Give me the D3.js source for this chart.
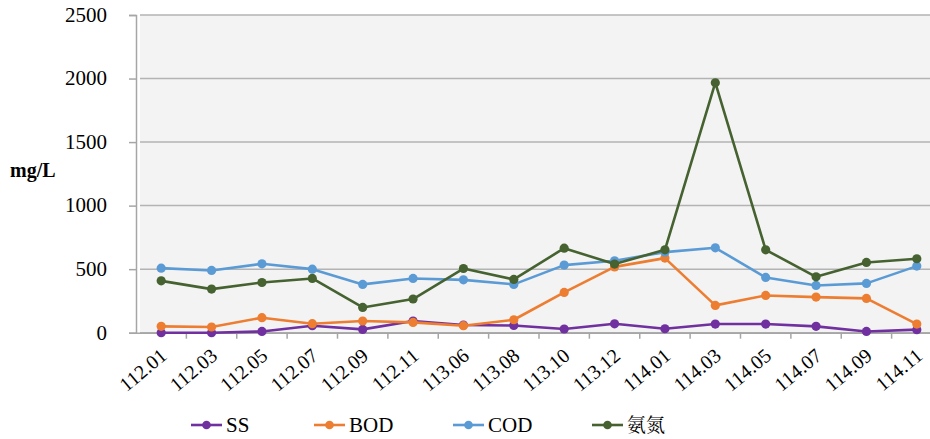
<!DOCTYPE html>
<html><head><meta charset="utf-8">
<script src="https://cdn.jsdelivr.net/npm/d3@7"></script>
</head><body style="margin:0">
<svg id="c" width="930" height="439"></svg>
<script>
const categories = ["112.01","112.03","112.05","112.07","112.09","112.11","113.06","113.08","113.10","113.12","114.01","114.03","114.05","114.07","114.09","114.11"];
const ssValues  = [0, 0, 10, 55, 26, 92, 60, 57, 29, 70, 31, 68, 68, 50, 10, 24];
const bodValues = [50, 45, 118, 71, 92, 81, 55, 102, 317, 518, 587, 215, 293, 280, 270, 68];
const codValues = [508, 490, 542, 500, 380, 427, 416, 380, 532, 566, 634, 668, 435, 372, 388, 524];
const nh3Values = [408, 343, 395, 427, 199, 265, 505, 419, 665, 540, 652, 1967, 652, 440, 553, 582];
const seriesNames = ["SS","BOD","COD","氨氮"];
const yTicks = [0, 500, 1000, 1500, 2000, 2500];

const series = [
  {name: seriesNames[0], values: ssValues,  color: "#7030a0"},
  {name: seriesNames[1], values: bodValues, color: "#ed7d31"},
  {name: seriesNames[2], values: codValues, color: "#5b9bd5"},
  {name: seriesNames[3], values: nh3Values, color: "#456230"}
];

const SERIF = '"Times New Roman"';
const CJK = '"Noto Serif CJK TC"';
const svg = d3.select("#c");
const L = 136, R = 942, T = 15, B = 332.7;
const x = d3.scaleBand().domain(categories).range([L, R]);
const y = d3.scaleLinear().domain([0, 2500]).range([B, T]);

// plot background
svg.append("rect").attr("x", 140).attr("y", T).attr("width", 930 - 140).attr("height", B - T).attr("fill", "#f3f3f3");

// gridlines
svg.append("g").selectAll("line").data(yTicks).join("line")
  .attr("x1", 140).attr("x2", 930)
  .attr("y1", d => y(d)).attr("y2", d => y(d))
  .attr("stroke", "#b3b3b3").attr("stroke-width", 1.5);

// y axis
const yAxis = svg.append("g").attr("transform", `translate(${L},0)`)
  .call(d3.axisLeft(y).tickValues(yTicks).tickSize(7).tickPadding(22).tickFormat(d3.format("d")));
yAxis.attr("font-family", SERIF).attr("font-size", 21);
yAxis.select(".domain").attr("stroke", "#a6a6a6").attr("stroke-width", 1.5);
yAxis.selectAll(".tick line").attr("stroke", "#a6a6a6").attr("stroke-width", 1.5);
yAxis.selectAll("text").attr("font-family", SERIF).attr("font-size", 21).attr("fill", "#000").attr("dy", "0.3em");

// x axis
const xAxis = svg.append("g").attr("transform", `translate(0,${B})`)
  .call(d3.axisBottom(x).tickSize(0).tickFormat(d => d));
xAxis.attr("font-family", SERIF).attr("font-size", 20);
xAxis.select(".domain").attr("stroke", "#a6a6a6").attr("stroke-width", 1.5);
xAxis.selectAll(".tick text")
  .attr("font-family", SERIF).attr("font-size", 20).attr("fill", "#000")
  .attr("text-anchor", "end").attr("dy", 0).attr("y", 0)
  .attr("transform", "translate(7,25) rotate(-40)");
// band boundary ticks
svg.append("g").selectAll("line").data(categories.slice(1)).join("line")
  .attr("x1", d => x(d)).attr("x2", d => x(d))
  .attr("y1", B).attr("y2", B + 6)
  .attr("stroke", "#a6a6a6").attr("stroke-width", 1.5);

// y label
svg.append("text").attr("x", 10).attr("y", 177).text("mg/L")
  .attr("font-family", SERIF).attr("font-weight", "bold").attr("font-size", 20);

// lines + markers
const cx = d => x(d) + x.bandwidth() / 2;
const line = d3.line().x((v, i) => cx(categories[i])).y(v => y(v));
const g = svg.append("g");
series.forEach(s => {
  g.append("path").attr("d", line(s.values)).attr("fill", "none")
    .attr("stroke", s.color).attr("stroke-width", 2.6).attr("stroke-linejoin", "round");
  g.selectAll(null).data(s.values).join("circle")
    .attr("cx", (v, i) => cx(categories[i])).attr("cy", v => y(v))
    .attr("r", 4.6).attr("fill", s.color);
});

// legend
const legendX = [191, 314, 453, 592];
const lg = svg.append("g");
series.forEach((s, i) => {
  const lx = legendX[i], ly = 425;
  lg.append("line").attr("x1", lx).attr("x2", lx + 31).attr("y1", ly).attr("y2", ly)
    .attr("stroke", s.color).attr("stroke-width", 2.6);
  lg.append("circle").attr("cx", lx + 15.5).attr("cy", ly).attr("r", 4.3).attr("fill", s.color);
  lg.append("text").attr("x", lx + 35).attr("y", ly + 7).text(s.name).attr("fill", "#000")
    .attr("font-family", i === 3 ? CJK : SERIF).attr("font-size", i === 3 ? 19 : 21);
});
</script>
</body></html>
